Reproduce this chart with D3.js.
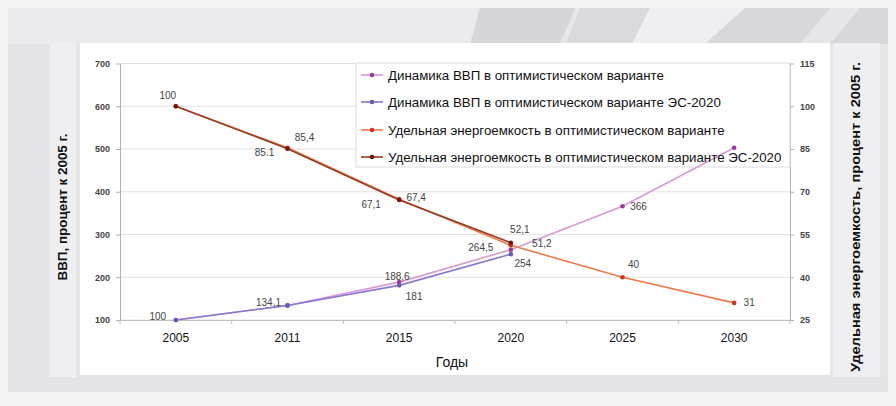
<!DOCTYPE html>
<html><head><meta charset="utf-8">
<script src="https://cdn.jsdelivr.net/npm/d3@7/dist/d3.min.js"></script>
<style>
html,body{margin:0;padding:0;background:#f3f3f3;}
svg{display:block;font-family:"Liberation Sans",Arial,sans-serif;}
</style></head>
<body>
<svg id="chart" width="896" height="406"></svg>
<script>
// ---- data ----
const years = ["2005","2011","2015","2020","2025","2030"];
const leftTicks = [100,200,300,400,500,600,700];
const rightTicks = [25,40,55,70,85,100,115];

const gdpOpt   = [100, 134.1, 188.6, 264.5, 366, 503];
const gdpES    = [100, 134.1, 181, 254, null, null];
const energyOpt = [100, 85.4, 67.4, 51.2, 40, 31];
const energyES  = [100, 85.1, 67.1, 52.1, null, null];

const gdpOptLabels    = ["100","134,1","188,6","264,5","366",""];
const gdpESLabels     = ["","","181","254","",""];
const energyOptLabels = ["100","85,4","67,4","51,2","40","31"];
const energyESLabels  = ["","85.1","67,1","52,1","",""];

const seriesNames = [
  "Динамика ВВП в оптимистическом варианте",
  "Динамика ВВП в оптимистическом варианте ЭС-2020",
  "Удельная энергоемкость в оптимистическом варианте",
  "Удельная энергоемкость в оптимистическом варианте ЭС-2020"
];
const leftTitle = "ВВП, процент к 2005 г.";
const rightTitle = "Удельная энергоемкость, процент к 2005 г.";
const xTitle = "Годы";

// label offsets (layout, kept apart from data)
const offGdpOpt = [[-18,-4],[-19,-3],[-2,-6],[-30,-2],[16,0],[0,0]];
const offGdpES  = [[0,0],[0,0],[15,11],[12,9],[0,0],[0,0]];
const offEnOpt  = [[-8,-11],[17,-10],[17,-2],[31,-2],[11,-13],[15,0]];
const offEnES   = [[0,0],[-23,4],[-28,4],[9,-13],[0,0],[0,0]];

const svg = d3.select("#chart");

// ---- background decoration ----
const bg = svg.append("g");
bg.append("rect").attr("x",8).attr("y",8).attr("width",880).attr("height",384).attr("fill","#e6e6e8");
bg.append("rect").attr("x",8).attr("y",8).attr("width",470).attr("height",36).attr("fill","#ebebed");
bg.append("polygon").attr("points","480,8 575,8 560,44 470,44").attr("fill","#d6d6da");
bg.append("polygon").attr("points","580,8 650,8 632,44 566,44").attr("fill","#dadade");
bg.append("polygon").attr("points","650,8 745,8 705,44 632,44").attr("fill","#efeff1");
bg.append("polygon").attr("points","745,8 888,8 888,44 705,44").attr("fill","#d8d8dc");
bg.append("polygon").attr("points","830,8 860,8 830,44 800,44").attr("fill","#e6e6e9");
bg.append("polygon").attr("points","8,375 888,375 888,392 8,392").attr("fill","#e4e4e6");
bg.append("polygon").attr("points","8,44 48,44 48,375 8,375").attr("fill","#e4e4e6");
bg.append("rect").attr("x",50).attr("y",42).attr("width",26).attr("height",335).attr("fill","#efeff1");
bg.append("rect").attr("x",833).attr("y",43).attr("width",47).attr("height",334).attr("fill","#efeff2");
bg.append("rect").attr("x",80).attr("y",43).attr("width",750).attr("height",332).attr("fill","#ffffff");

// ---- scales ----
const x = d3.scaleBand().domain(years).range([120,790]).padding(0);
const cx = d => x(d) + x.bandwidth()/2;
const yL = d3.scaleLinear().domain([100,700]).range([320,63.5]);
const yR = d3.scaleLinear().domain([25,115]).range([320,63.5]);

// grid
svg.append("g").selectAll("line").data(leftTicks).join("line")
  .attr("x1",120).attr("x2",790).attr("y1",d=>yL(d)).attr("y2",d=>yL(d))
  .attr("stroke","#e2e2e2").attr("stroke-width",1);

// axes
const axL = svg.append("g").attr("transform","translate(120,0)")
  .call(d3.axisLeft(yL).tickValues(leftTicks).tickSize(4).tickPadding(6).tickSizeOuter(0));
const axR = svg.append("g").attr("transform","translate(790,0)")
  .call(d3.axisRight(yR).tickValues(rightTicks).tickSize(4).tickPadding(6).tickSizeOuter(0));
[axL,axR].forEach(a=>{
  a.select(".domain").attr("stroke","#b0b0b0");
  a.selectAll(".tick line").attr("stroke","#b0b0b0");
  a.selectAll("text").attr("font-size","9px").attr("font-weight","bold").attr("fill","#444")
    .attr("font-family","'Liberation Sans',Arial,sans-serif");
});
const axB = svg.append("g").attr("transform","translate(0,320)")
  .call(d3.axisBottom(x).tickSize(0).tickPadding(13).tickSizeOuter(0));
axB.select(".domain").attr("stroke","#c0c0c0");
axB.selectAll("text").attr("font-size","12px").attr("fill","#111")
  .attr("font-family","'Liberation Sans',Arial,sans-serif");
// boundary tick marks
const edges = years.map(d=>x(d)).concat([x.range()[1]]);
svg.append("g").selectAll("line").data(edges).join("line")
  .attr("x1",d=>d).attr("x2",d=>d).attr("y1",320).attr("y2",324).attr("stroke","#c0c0c0");

// titles
svg.append("text").attr("transform","translate(67,207) rotate(-90)")
  .attr("text-anchor","middle").attr("font-size","13px").attr("font-weight","bold").attr("fill","#111")
  .attr("textLength",147).attr("lengthAdjust","spacingAndGlyphs")
  .text(leftTitle);
svg.append("defs").append("clipPath").attr("id","rclip").append("rect")
  .attr("x",833).attr("y",43).attr("width",47).attr("height",334);
svg.append("g").attr("clip-path","url(#rclip)")
  .append("text")
  .attr("transform","translate(860,372) rotate(-90)")
  .attr("text-anchor","start").attr("font-size","13px").attr("font-weight","bold").attr("fill","#111")
  .attr("textLength",310).attr("lengthAdjust","spacingAndGlyphs")
  .text(rightTitle);
svg.append("text").attr("x",452).attr("y",367).attr("text-anchor","middle")
  .attr("font-size","14px").attr("fill","#111")
  .attr("font-family","'Liberation Sans Narrow','Liberation Sans',Arial,sans-serif")
  .text(xTitle);

// ---- legend background ----
const rows = [75,102,130,157];
svg.append("rect").attr("x",356).attr("y",63).attr("width",434).attr("height",104)
  .attr("fill","#fff").attr("stroke","#dcdcdc");

// ---- series ----
const series = [
  {vals:gdpOpt, labels:gdpOptLabels, off:offGdpOpt, y:yL, color:"#d99ad6", mk:"#9a3a96"},
  {vals:gdpES, labels:gdpESLabels, off:offGdpES, y:yL, color:"#8878d4", mk:"#6a5ac0"},
  {vals:energyOpt, labels:energyOptLabels, off:offEnOpt, y:yR, color:"#f07a48", mk:"#d83020"},
  {vals:energyES, labels:energyESLabels, off:offEnES, y:yR, color:"#9a3a22", mk:"#701810"}
];

series.forEach(s=>{
  const pts = years.map((yr,i)=>({yr, v:s.vals[i], lab:s.labels[i], off:s.off[i]})).filter(p=>p.v!==null);
  const line = d3.line().x(p=>cx(p.yr)).y(p=>s.y(p.v));
  svg.append("path").datum(pts).attr("d",line).attr("fill","none")
    .attr("stroke",s.color).attr("stroke-width",1.6);
  svg.append("g").selectAll("circle").data(pts).join("circle")
    .attr("cx",p=>cx(p.yr)).attr("cy",p=>s.y(p.v)).attr("r",2.3).attr("fill",s.mk);
});
series.forEach(s=>{
  const pts = years.map((yr,i)=>({yr, v:s.vals[i], lab:s.labels[i], off:s.off[i]})).filter(p=>p.v!==null && p.lab);
  svg.append("g").selectAll("text").data(pts).join("text")
    .attr("x",p=>cx(p.yr)+p.off[0]).attr("y",p=>s.y(p.v)+p.off[1])
    .attr("text-anchor","middle").attr("dominant-baseline","central")
    .attr("font-size","10px").attr("fill","#444").text(p=>p.lab);
});

// ---- legend entries ----
const lg = svg.append("g");
series.forEach((s,i)=>{
  lg.append("line").attr("x1",361).attr("x2",383).attr("y1",rows[i]).attr("y2",rows[i])
    .attr("stroke",s.color).attr("stroke-width",1.6);
  lg.append("circle").attr("cx",372).attr("cy",rows[i]).attr("r",2.3).attr("fill",s.mk);
  lg.append("text").attr("x",388).attr("y",rows[i]).attr("dominant-baseline","central")
    .attr("font-size","13.3px").attr("fill","#111").text(seriesNames[i]);
});
</script>
</body></html>
